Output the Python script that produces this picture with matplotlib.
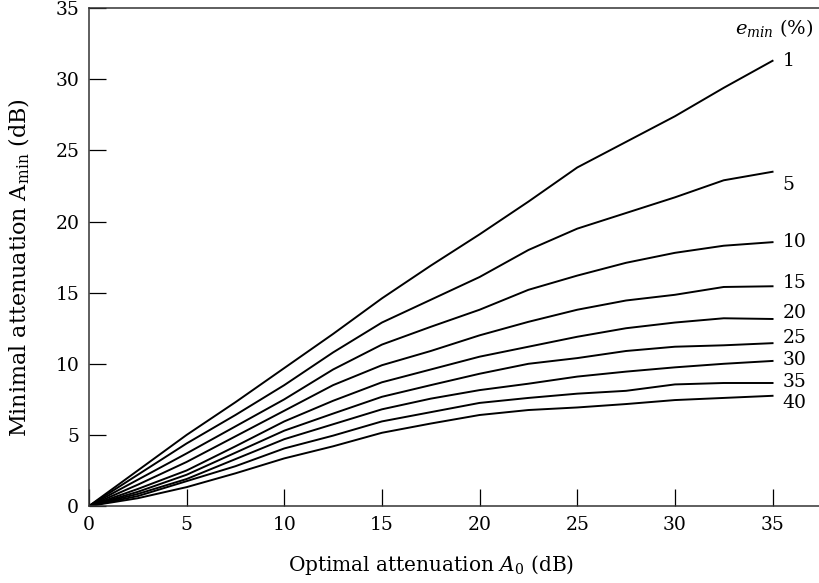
import matplotlib
matplotlib.use("Agg")
import matplotlib.pyplot as plt

# optimal attenuation A0 (dB)
a0 = [0, 2.5, 5, 7.5, 10, 12.5, 15, 17.5, 20, 22.5, 25, 27.5, 30, 32.5, 35]

# minimal attenuation Amin (dB) for each e_min (%)
e_min = [1, 5, 10, 15, 20, 25, 30, 35, 40]
amin_1 = [0, 2.5, 5.0, 7.3, 9.7, 12.1, 14.6, 16.9, 19.1, 21.4, 23.8, 25.6, 27.4, 29.4, 31.3]
amin_5 = [0, 2.2, 4.4, 6.4, 8.5, 10.8, 12.9, 14.5, 16.1, 18.0, 19.5, 20.6, 21.7, 22.9, 23.5]
amin_10 = [0, 1.85, 3.7, 5.6, 7.5, 9.6, 11.35, 12.6, 13.8, 15.2, 16.2, 17.1, 17.8, 18.3, 18.55]
amin_15 = [0, 1.5, 3.1, 4.9, 6.7, 8.5, 9.9, 10.9, 12.0, 12.95, 13.8, 14.45, 14.85, 15.4, 15.45]
amin_20 = [0, 1.2, 2.5, 4.2, 5.95, 7.4, 8.7, 9.6, 10.5, 11.2, 11.9, 12.5, 12.9, 13.2, 13.15]
amin_25 = [0, 1.0, 2.2, 3.75, 5.3, 6.5, 7.68, 8.5, 9.3, 10.0, 10.4, 10.9, 11.2, 11.3, 11.45]
amin_30 = [0, 0.85, 1.9, 3.3, 4.7, 5.75, 6.8, 7.55, 8.15, 8.6, 9.1, 9.45, 9.75, 10.0, 10.2]
amin_35 = [0, 0.7, 1.75, 2.8, 4.05, 4.95, 5.95, 6.6, 7.25, 7.6, 7.9, 8.1, 8.55, 8.65, 8.65]
amin_40 = [0, 0.55, 1.33, 2.3, 3.35, 4.2, 5.15, 5.8, 6.4, 6.75, 6.93, 7.17, 7.45, 7.6, 7.75]
curves = [amin_1, amin_5, amin_10, amin_15, amin_20, amin_25, amin_30, amin_35, amin_40]

# where the curve labels sit (y, dB)
label_y = [31.3, 22.6, 18.55, 15.7, 13.6, 11.8, 10.25, 8.7, 7.25]

plt.rcParams['font.family'] = ['DejaVu Serif']
plt.rcParams['mathtext.fontset'] = 'dejavuserif'

fig = plt.figure(figsize=(8.2, 5.83), dpi=100)
ax = fig.add_axes([0.1085, 0.132, 0.8915, 0.854])

for vals in curves:
    ax.plot(a0, vals, color='black', lw=1.4, solid_joinstyle='round')

for e, y in zip(e_min, label_y):
    ax.text(35.5, y, str(e), fontsize=13.5, ha='left', va='center')

ax.text(37.1, 33.6, r'$e_{min}$ (%)', fontsize=14, ha='right', va='center')

ax.set_xlim(0, 37.43)
ax.set_ylim(0, 35)
ax.set_xticks(range(0, 36, 5))
ax.set_yticks(range(0, 36, 5))
ax.tick_params(direction='in', length=12, width=0.9, labelsize=13.5, pad=7)
ax.spines['right'].set_visible(False)
for s in ['left', 'bottom', 'top']:
    ax.spines[s].set_linewidth(1.1)
    ax.spines[s].set_color('#333333')

ax.set_xlabel(r'Optimal attenuation $A_0$ (dB)', fontsize=14.5)
ax.set_ylabel(r'Minimal attenuation A$_{\mathrm{min}}$ (dB)', fontsize=16)
ax.xaxis.set_label_coords(0.4675, -0.095)
ax.yaxis.set_label_coords(-0.078, 0.48)

fig.savefig('out.png', dpi=100)
